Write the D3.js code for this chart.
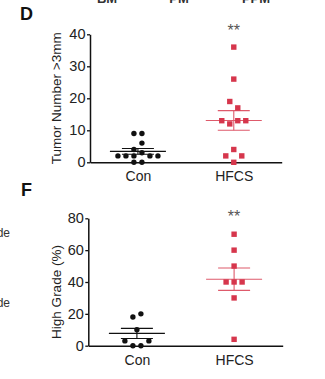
<!DOCTYPE html>
<html>
<head>
<meta charset="utf-8">
<script src="https://cdn.jsdelivr.net/npm/d3@7"></script>
<style>
  html, body { margin: 0; padding: 0; background: #fff; }
  svg { display: block; }
  text { font-family: "Liberation Sans", Arial, Helvetica, sans-serif; }
</style>
</head>
<body>
<svg id="chart" width="325" height="379"></svg>
<script>
// ---- data ----
const categories = ["Con", "HFCS"];
const tumorCon  = [9, 9, 4, 6, 2, 2, 2, 3, 2, 2, 0, 0];
const tumorHFCS = [36, 26, 19, 17, 13, 12, 13, 13, 2, 4, 2, 0];
const gradeCon  = [18, 20, 10, 3, 0, 0, 3];
const gradeHFCS = [70, 60, 50, 40, 40, 40, 30, 4];
const tumorTicks = [0, 10, 20, 30, 40];
const gradeTicks = [0, 20, 40, 60, 80];
const tumorLabel = "Tumor Number >3mm";
const gradeLabel = "High Grade (%)";
const signif = "**";

const svg = d3.select("#chart");
svg.append("rect").attr("width", 325).attr("height", 379).attr("fill", "#fff");

const BLACK = "#111";
const RED = "#d6364c";
const RED_LINE = "#de5a6b";

// fragments of neighbouring panels (cut off by the crop, as in the source figure)
const frag = svg.append("g").attr("fill", "#333").attr("font-weight", "bold").attr("font-size", 13);
[["BM", 107], ["PM", 179], ["PPM", 256]].forEach(([t, x]) => {
  frag.append("text").attr("x", x).attr("y", 2.5).attr("text-anchor", "middle").text(t);
});
svg.append("text").attr("x", 10).attr("y", 236.5).attr("text-anchor", "end")
  .attr("font-size", 12).attr("fill", "#333").text("Low Grade");
svg.append("text").attr("x", 10).attr("y", 307).attr("text-anchor", "end")
  .attr("font-size", 12).attr("fill", "#333").text("High Grade");

function panel(opts) {
  const { letter, letterX, letterY, axisX, y0, y1, xEnd, domainMax, ticks, label, groups, labelY } = opts;
  const g = svg.append("g");
  const y = d3.scaleLinear().domain([0, domainMax]).range([y0, y1]);
  const x = d3.scalePoint().domain(categories).range([axisX, xEnd]).padding(0.5);

  // panel letter
  g.append("text").attr("x", letterX).attr("y", letterY)
    .attr("font-family", "'Liberation Sans Narrow', 'Arial Narrow', 'Liberation Sans', sans-serif")
    .attr("font-weight", "bold").attr("font-size", 18).attr("fill", "#111").text(letter);

  // y axis
  const ya = g.append("g").attr("transform", `translate(${axisX},0)`)
    .call(d3.axisLeft(y).tickValues(ticks).tickSize(3).tickSizeOuter(0).tickPadding(1.5));
  ya.select(".domain").attr("stroke", "#111").attr("stroke-width", 1.5);
  ya.selectAll(".tick line").attr("stroke", "#111").attr("stroke-width", 1.3);
  ya.selectAll(".tick text").attr("font-size", 14.5).attr("fill", "#222")
    .attr("font-family", "'Liberation Sans', Arial, sans-serif");

  // x axis
  const xa = g.append("g").attr("transform", `translate(0,${y0})`)
    .call(d3.axisBottom(x).tickSize(0).tickSizeOuter(0).tickPadding(9));
  xa.select(".domain").attr("stroke", "#111").attr("stroke-width", 1.5);
  xa.selectAll(".tick text").attr("font-size", 14).attr("fill", "#222")
    .attr("font-family", "'Liberation Sans', Arial, sans-serif");

  // y label
  g.append("text")
    .attr("transform", `translate(${opts.labelX},${labelY}) rotate(-90)`)
    .attr("text-anchor", "middle").attr("font-size", 13.5).attr("fill", "#222")
    .text(label);

  // points
  const spacing = 8, rowThresh = 7;
  groups.forEach(gr => {
    const cx = x(gr.cat);
    // layout: rows of nearby values spread horizontally
    const pts = gr.values.map((v, i) => ({ v, i }));
    const sorted = pts.slice().sort((a, b) => d3.descending(a.v, b.v) || a.i - b.i);
    const rows = [];
    sorted.forEach(p => {
      const last = rows[rows.length - 1];
      if (last && Math.abs(y(last[0].v) - y(p.v)) < rowThresh) last.push(p);
      else rows.push([p]);
    });
    rows.forEach(r => {
      r.sort((a, b) => a.i - b.i);
      r.forEach((p, k) => { p.dx = (k - (r.length - 1) / 2) * spacing; });
    });

    // mean & SEM
    const m = d3.mean(gr.values);
    const sem = d3.deviation(gr.values) / Math.sqrt(gr.values.length);
    const lc = gr.square ? RED_LINE : BLACK;
    const lines = g.append("g").attr("stroke", lc).attr("stroke-width", 1.1);
    lines.append("line").attr("x1", cx - 28).attr("x2", cx + 28).attr("y1", y(m)).attr("y2", y(m));
    lines.append("line").attr("x1", cx - 16).attr("x2", cx + 16).attr("y1", y(m + sem)).attr("y2", y(m + sem));
    lines.append("line").attr("x1", cx - 16).attr("x2", cx + 16).attr("y1", y(m - sem)).attr("y2", y(m - sem));
    lines.append("line").attr("x1", cx).attr("x2", cx).attr("y1", y(m + sem)).attr("y2", y(m - sem));

    if (gr.square) {
      g.append("g").selectAll("rect").data(sorted).join("rect")
        .attr("x", p => cx + p.dx - 2.7).attr("y", p => y(p.v) - 2.7)
        .attr("width", 5.4).attr("height", 5.4).attr("fill", RED);
    } else {
      g.append("g").selectAll("circle").data(sorted).join("circle")
        .attr("cx", p => cx + p.dx).attr("cy", p => y(p.v)).attr("r", 2.7).attr("fill", BLACK);
    }

    if (gr.star) {
      g.append("text").attr("x", cx).attr("y", opts.starY).attr("text-anchor", "middle")
        .attr("font-size", 16).attr("fill", "#555").text(signif);
    }
  });
}

panel({
  letter: "D", letterX: 20, letterY: 19.5,
  axisX: 90, y0: 162.3, y1: 34.3, xEnd: 281.7, domainMax: 40,
  ticks: tumorTicks, label: tumorLabel, labelX: 60.5, labelY: 98.3, starY: 36,
  groups: [
    { cat: "Con", values: tumorCon, square: false },
    { cat: "HFCS", values: tumorHFCS, square: true, star: true }
  ]
});

panel({
  letter: "F", letterX: 21, letterY: 196,
  axisX: 88.3, y0: 345.7, y1: 218.3, xEnd: 282.7, domainMax: 80,
  ticks: gradeTicks, label: gradeLabel, labelX: 60.5, labelY: 292, starY: 222,
  groups: [
    { cat: "Con", values: gradeCon, square: false },
    { cat: "HFCS", values: gradeHFCS, square: true, star: true }
  ]
});
</script>
</body>
</html>
